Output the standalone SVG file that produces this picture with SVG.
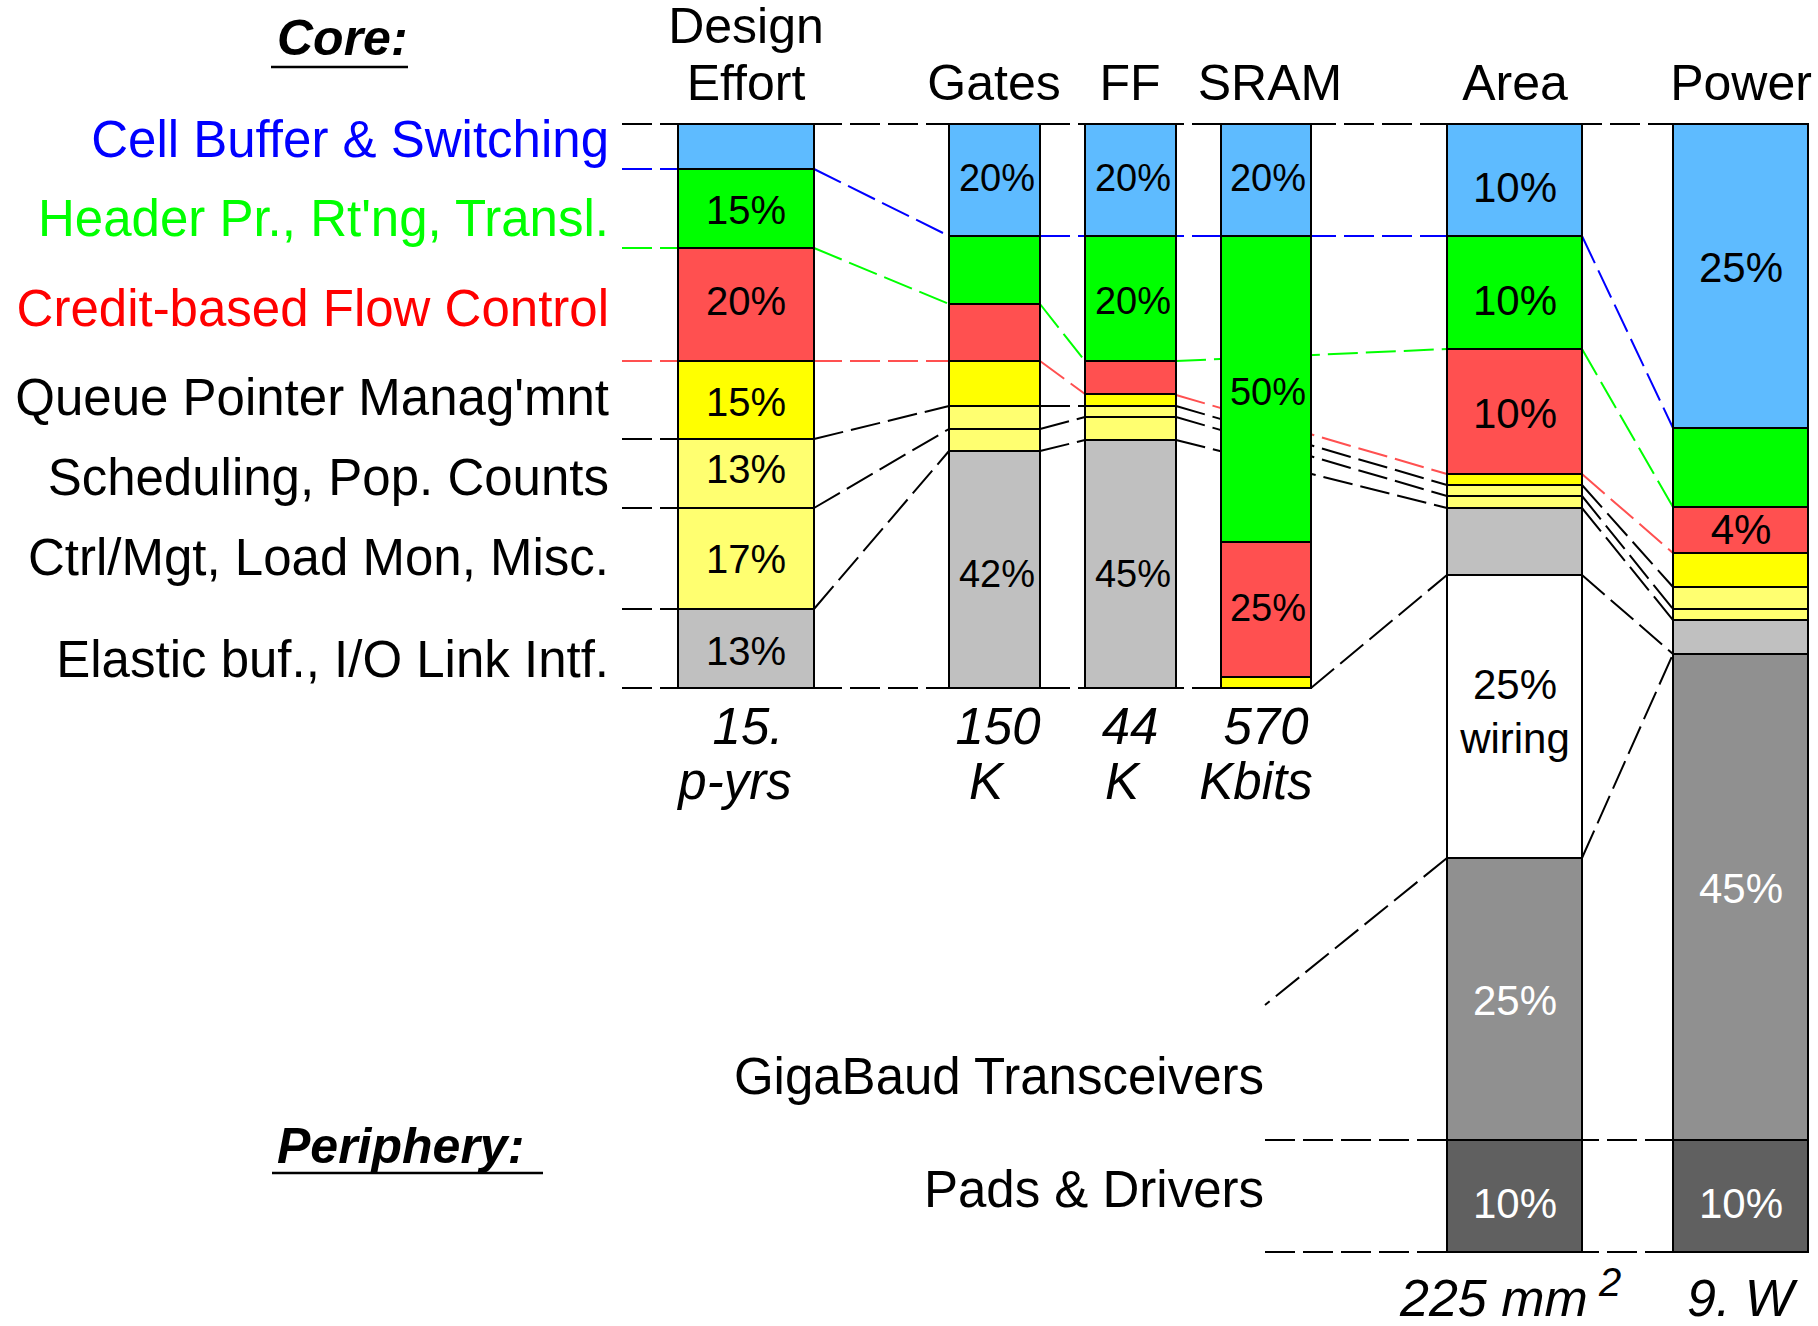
<svg xmlns="http://www.w3.org/2000/svg" width="1818" height="1326" viewBox="0 0 1818 1326">
<style>
text{font-family:"Liberation Sans",Arial,Helvetica,sans-serif;fill:#000}
.lbl{font-size:51px;text-anchor:end}
.hdr{font-size:50px;text-anchor:middle}
.ttl{font-size:50px;font-weight:bold;font-style:italic}
.it{font-size:51px;font-style:italic;text-anchor:middle}
.p40{font-size:40px;text-anchor:middle}
.p37{font-size:38px;text-anchor:middle}
.p42{font-size:42px;text-anchor:middle}
.w{fill:#fff}
.seg{stroke:#000;stroke-width:2}
.cb{fill:#5ebbff}.cg{fill:#00ff00}.cr{fill:#ff5050}.cy{fill:#ffff00}.cly{fill:#ffff70}
.cgr{fill:#c0c0c0}.cmg{fill:#909090}.cdg{fill:#606060}.cw{fill:#fff}
.d{fill:none;stroke-width:2;stroke-dasharray:30 8}
.k{stroke:#000}.b{stroke:#0000ff}.g{stroke:#00ff00}.r{stroke:#ff5050}
</style>

<g id="connectors">
<path class="d k" d="M622 124H1673M622 688H1311M1265 1140H1673M1265 1252H1673"/>
<path class="d k" d="M622 439H678M622 508H678M622 609H678"/>
<path class="d b" d="M622 169H678M814 169L949 236M1040 236H1447M1582 236L1673 428"/>
<path class="d g" d="M622 248H678M814 248L949 304M1040 304L1085 361M1176 361L1447 349M1582 349L1673 507"/>
<path class="d r" d="M622 361H949M1040 361L1085 394M1176 395L1447 474M1582 474L1673 553"/>
<path class="d k" d="M814 439L949 406M1040 406H1085M1176 406L1447 485M1582 485L1673 587"/>
<path class="d k" d="M814 508L949 429M1040 429L1085 417M1176 417L1447 496M1582 496L1673 609"/>
<path class="d k" d="M814 609L949 451M1040 451L1085 440M1176 440L1447 508M1582 508L1673 620"/>
<path class="d k" d="M1311 688L1447 575M1582 575L1673 654M1582 858L1673 654M1447 858L1265 1005"/>
</g>

<g id="titles">
<text class="ttl" x="277" y="55">Core:</text>
<line x1="271" y1="67" x2="408" y2="67" stroke="#000" stroke-width="2.5"/>
<text class="ttl" x="277" y="1163">Periphery:</text>
<line x1="272" y1="1173" x2="543" y2="1173" stroke="#000" stroke-width="2.5"/>
</g>

<g id="labels">
<text class="lbl" x="609" y="157" style="fill:#0000ff">Cell Buffer &amp; Switching</text>
<text class="lbl" x="609" y="236" style="fill:#00ff00">Header Pr., Rt'ng, Transl.</text>
<text class="lbl" x="609" y="326" style="fill:#ff0000">Credit-based Flow Control</text>
<text class="lbl" x="609" y="415">Queue Pointer Manag'mnt</text>
<text class="lbl" x="609" y="495">Scheduling, Pop. Counts</text>
<text class="lbl" x="609" y="575">Ctrl/Mgt, Load Mon, Misc.</text>
<text class="lbl" x="609" y="677">Elastic buf., I/O Link Intf.</text>
<text class="lbl" x="1264" y="1094">GigaBaud Transceivers</text>
<text class="lbl" x="1264" y="1207">Pads &amp; Drivers</text>
</g>

<g id="design-effort">
<text class="hdr" x="746" y="43">Design</text>
<text class="hdr" x="746" y="100">Effort</text>
<rect class="seg cb" x="678" y="124" width="136" height="45"/>
<rect class="seg cg" x="678" y="169" width="136" height="79"/>
<rect class="seg cr" x="678" y="248" width="136" height="113"/>
<rect class="seg cy" x="678" y="361" width="136" height="78"/>
<rect class="seg cly" x="678" y="439" width="136" height="69"/>
<rect class="seg cly" x="678" y="508" width="136" height="101"/>
<rect class="seg cgr" x="678" y="609" width="136" height="79"/>
<text class="p40" x="746" y="224">15%</text>
<text class="p40" x="746" y="315">20%</text>
<text class="p40" x="746" y="416">15%</text>
<text class="p40" x="746" y="483">13%</text>
<text class="p40" x="746" y="573">17%</text>
<text class="p40" x="746" y="665">13%</text>
<text class="it" x="748" y="744">15.</text>
<text class="it" x="735" y="799">p-yrs</text>
</g>

<g id="gates">
<text class="hdr" x="994" y="100">Gates</text>
<rect class="seg cb" x="949" y="124" width="91" height="112"/>
<rect class="seg cg" x="949" y="236" width="91" height="68"/>
<rect class="seg cr" x="949" y="304" width="91" height="57"/>
<rect class="seg cy" x="949" y="361" width="91" height="45"/>
<rect class="seg cly" x="949" y="406" width="91" height="23"/>
<rect class="seg cly" x="949" y="429" width="91" height="22"/>
<rect class="seg cgr" x="949" y="451" width="91" height="237"/>
<text class="p37" x="997" y="191">20%</text>
<text class="p37" x="997" y="587">42%</text>
<text class="it" x="998" y="744">150</text>
<text class="it" x="986" y="799">K</text>
</g>

<g id="ff">
<text class="hdr" x="1130" y="100">FF</text>
<rect class="seg cb" x="1085" y="124" width="91" height="112"/>
<rect class="seg cg" x="1085" y="236" width="91" height="125"/>
<rect class="seg cr" x="1085" y="361" width="91" height="33"/>
<rect class="seg cy" x="1085" y="394" width="91" height="12"/>
<rect class="seg cly" x="1085" y="406" width="91" height="11"/>
<rect class="seg cly" x="1085" y="417" width="91" height="23"/>
<rect class="seg cgr" x="1085" y="440" width="91" height="248"/>
<text class="p37" x="1133" y="191">20%</text>
<text class="p37" x="1133" y="314">20%</text>
<text class="p37" x="1133" y="587">45%</text>
<text class="it" x="1130" y="744">44</text>
<text class="it" x="1122" y="799">K</text>
</g>

<g id="sram">
<text class="hdr" x="1270" y="100">SRAM</text>
<rect class="seg cb" x="1221" y="124" width="90" height="112"/>
<rect class="seg cg" x="1221" y="236" width="90" height="306"/>
<rect class="seg cr" x="1221" y="542" width="90" height="135"/>
<rect class="seg cy" x="1221" y="677" width="90" height="11"/>
<text class="p37" x="1268" y="191">20%</text>
<text class="p37" x="1268" y="405">50%</text>
<text class="p37" x="1268" y="621">25%</text>
<text class="it" x="1266" y="744">570</text>
<text class="it" x="1256" y="799">Kbits</text>
</g>

<g id="area">
<text class="hdr" x="1515" y="100">Area</text>
<rect class="seg cb" x="1447" y="124" width="135" height="112"/>
<rect class="seg cg" x="1447" y="236" width="135" height="113"/>
<rect class="seg cr" x="1447" y="349" width="135" height="125"/>
<rect class="seg cy" x="1447" y="474" width="135" height="11"/>
<rect class="seg cly" x="1447" y="485" width="135" height="11"/>
<rect class="seg cly" x="1447" y="496" width="135" height="12"/>
<rect class="seg cgr" x="1447" y="508" width="135" height="67"/>
<rect class="seg cw" x="1447" y="575" width="135" height="283"/>
<rect class="seg cmg" x="1447" y="858" width="135" height="282"/>
<rect class="seg cdg" x="1447" y="1140" width="135" height="112"/>
<text class="p42" x="1515" y="202">10%</text>
<text class="p42" x="1515" y="315">10%</text>
<text class="p42" x="1515" y="428">10%</text>
<text class="p42" x="1515" y="699">25%</text>
<text class="p42" x="1515" y="753">wiring</text>
<text class="p42 w" x="1515" y="1015">25%</text>
<text class="p42 w" x="1515" y="1218">10%</text>
<text style="font-size:52px;font-style:italic" x="1400" y="1316">225 mm</text>
<text style="font-size:40px;font-style:italic" x="1599" y="1296">2</text>
</g>

<g id="power">
<text class="hdr" x="1741" y="100">Power</text>
<rect class="seg cb" x="1673" y="124" width="135" height="304"/>
<rect class="seg cg" x="1673" y="428" width="135" height="79"/>
<rect class="seg cr" x="1673" y="507" width="135" height="46"/>
<rect class="seg cy" x="1673" y="553" width="135" height="34"/>
<rect class="seg cly" x="1673" y="587" width="135" height="22"/>
<rect class="seg cly" x="1673" y="609" width="135" height="11"/>
<rect class="seg cgr" x="1673" y="620" width="135" height="34"/>
<rect class="seg cmg" x="1673" y="654" width="135" height="486"/>
<rect class="seg cdg" x="1673" y="1140" width="135" height="112"/>
<text class="p42" x="1741" y="282">25%</text>
<text class="p42" x="1741" y="544">4%</text>
<text class="p42 w" x="1741" y="903">45%</text>
<text class="p42 w" x="1741" y="1218">10%</text>
<text style="font-size:52px;font-style:italic" x="1687" y="1316">9. W</text>
</g>
</svg>
